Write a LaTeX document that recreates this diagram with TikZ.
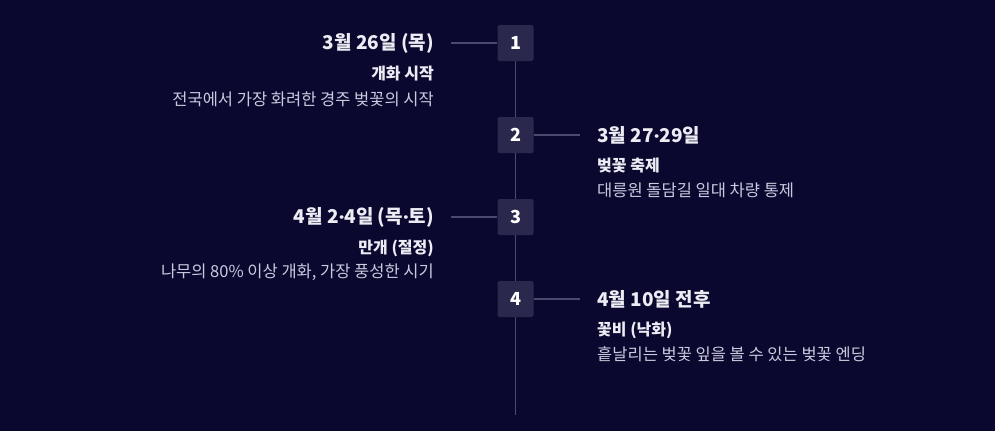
\documentclass[tikz,border=0pt]{standalone}
\usepackage{fontspec}
\setmainfont{Noto Sans CJK KR}
\newfontfamily\dotfont{Poppins}
\newcommand{\mdot}{{\dotfont\bfseries ·}}
\definecolor{bgnavy}{HTML}{0B0830}
\definecolor{boxfill}{HTML}{2A284D}
\definecolor{railcol}{HTML}{4B4A6E}
\definecolor{headcol}{HTML}{ECECF4}
\definecolor{desccol}{HTML}{CACADE}
\tikzset{
  stepbox/.style={fill=boxfill, minimum size=36pt, inner sep=0pt, rounded corners=2pt,
    text=white, font=\fontsize{18}{18}\selectfont\bfseries},
  rail/.style={draw=railcol, line width=1.3pt},
  datetxt/.style={inner sep=0pt, text=headcol, font=\fontsize{19}{19}\selectfont\bfseries},
  subtxt/.style={inner sep=0pt, text=headcol, font=\fontsize{16}{16}\selectfont\bfseries},
  desctxt/.style={inner sep=0pt, text=desccol, font=\fontsize{16.5}{16.5}\selectfont}
}
\begin{document}
\begin{tikzpicture}[x=1pt,y=-1pt]
  % background
  \fill[bgnavy] (0,0) rectangle (995,431);
  \useasboundingbox (0,0) rectangle (995,431);
  % steps
  \node[stepbox] (n1) at (515.5,43) {1};
  \node[stepbox] (n2) at (515.5,135) {2};
  \node[stepbox] (n3) at (515.5,217) {3};
  \node[stepbox] (n4) at (515.5,299) {4};
  \coordinate (bot) at (515.5,415);
  % vertical rail
  \draw[rail] (n1.south) -- (n2.north);
  \draw[rail] (n2.south) -- (n3.north);
  \draw[rail] (n3.south) -- (n4.north);
  \draw[rail] (n4.south) -- (bot);
  % ticks
  \coordinate (c1) at (451,43);
  \coordinate (c2) at (580,135);
  \coordinate (c3) at (451,217);
  \coordinate (c4) at (580,299);
  \draw[rail] (c1) -- (n1.west);
  \draw[rail] (n2.east) -- (c2);
  \draw[rail] (c3) -- (n3.west);
  \draw[rail] (n4.east) -- (c4);
  % step 1 (left)
  \node[datetxt, anchor=east] (d1) at (434,43) {3월 26일 (목)};
  \node[subtxt, anchor=east] (s1) at (434,74) {개화 시작};
  \node[desctxt, anchor=east] (e1) at (434,99) {전국에서 가장 화려한 경주 벚꽃의 시작};
  % step 2 (right)
  \node[datetxt, anchor=west] (d2) at (597,135) {3월 27\mdot 29일};
  \node[subtxt, anchor=west] (s2) at (597,166) {벚꽃 축제};
  \node[desctxt, anchor=west] (e2) at (597,190) {대릉원 돌담길 일대 차량 통제};
  % step 3 (left)
  \node[datetxt, anchor=east] (d3) at (434,217) {4월 2\mdot 4일 (목\mdot 토)};
  \node[subtxt, anchor=east] (s3) at (434,248) {만개 (절정)};
  \node[desctxt, anchor=east] (e3) at (434,272) {나무의 80\% 이상 개화, 가장 풍성한 시기};
  % step 4 (right)
  \node[datetxt, anchor=west] (d4) at (597,299) {4월 10일 전후};
  \node[subtxt, anchor=west] (s4) at (597,330) {꽃비 (낙화)};
  \node[desctxt, anchor=west] (e4) at (597,354) {흩날리는 벚꽃 잎을 볼 수 있는 벚꽃 엔딩};
\end{tikzpicture}
\end{document}
